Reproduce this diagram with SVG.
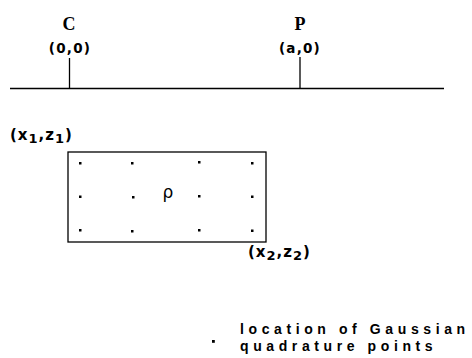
<svg xmlns="http://www.w3.org/2000/svg" width="472" height="358" viewBox="0 0 472 358">
<style>
.ln{stroke:#000;stroke-width:1.3;fill:none}
.pt{font-family:"Liberation Serif",serif;font-weight:bold;font-size:18px;text-anchor:middle}
.co{font-family:"DejaVu Sans",sans-serif;font-weight:bold;font-size:13.5px;text-anchor:middle;letter-spacing:1.2px}
.lb{font-family:"DejaVu Sans",sans-serif;font-size:15px;font-weight:bold;letter-spacing:1px}
.sb{font-size:13px}
.lg{font-family:"Liberation Sans",sans-serif;font-weight:bold;font-size:14px;letter-spacing:4.6px}
.dot{fill:#000}
</style>
<rect width="472" height="358" fill="#fff"/>
<g id="connectors">
<line class="ln" x1="10" y1="88.5" x2="444" y2="88.5"/>
<line class="ln" x1="69.5" y1="58" x2="69.5" y2="89"/>
<line class="ln" x1="300" y1="57" x2="300" y2="89"/>
</g>
<g id="C">
<text class="pt" x="69" y="29.5">C</text>
<text class="co" x="70" y="53">(0,0)</text>
</g>
<g id="P">
<text class="pt" x="300" y="29.5">P</text>
<text class="co" x="300" y="53">(a,0)</text>
</g>
<g id="body">
<rect class="ln" x="68" y="152" width="198" height="90"/>
<rect class="dot" x="79" y="162" width="2.5" height="2.5"/>
<rect class="dot" x="131" y="162" width="2.5" height="2.5"/>
<rect class="dot" x="198" y="161" width="2.5" height="2.5"/>
<rect class="dot" x="251" y="162" width="2.5" height="2.5"/>
<rect class="dot" x="79" y="195.5" width="2.5" height="2.5"/>
<rect class="dot" x="132" y="196" width="2.5" height="2.5"/>
<rect class="dot" x="198" y="195" width="2.5" height="2.5"/>
<rect class="dot" x="251" y="195.5" width="2.5" height="2.5"/>
<rect class="dot" x="79" y="229" width="2.5" height="2.5"/>
<rect class="dot" x="131" y="230" width="2.5" height="2.5"/>
<rect class="dot" x="198" y="229" width="2.5" height="2.5"/>
<rect class="dot" x="251" y="229.5" width="2.5" height="2.5"/>
<text x="168" y="198" font-family="DejaVu Sans,sans-serif" font-size="17px" text-anchor="middle">ρ</text>
</g>
<g id="corner1">
<text class="lb" x="10" y="140">(x<tspan class="sb" dy="3">1</tspan><tspan dy="-3">,z</tspan><tspan class="sb" dy="3">1</tspan><tspan dy="-3">)</tspan></text>
</g>
<g id="corner2">
<text class="lb" x="248" y="257">(x<tspan class="sb" dy="3">2</tspan><tspan dy="-3">,z</tspan><tspan class="sb" dy="3">2</tspan><tspan dy="-3">)</tspan></text>
</g>
<g id="legend">
<rect class="dot" x="212" y="340" width="2.8" height="2.8"/>
<text class="lg" x="240" y="334">location of Gaussian</text>
<text class="lg" x="240" y="351">quadrature points</text>
</g>
</svg>
